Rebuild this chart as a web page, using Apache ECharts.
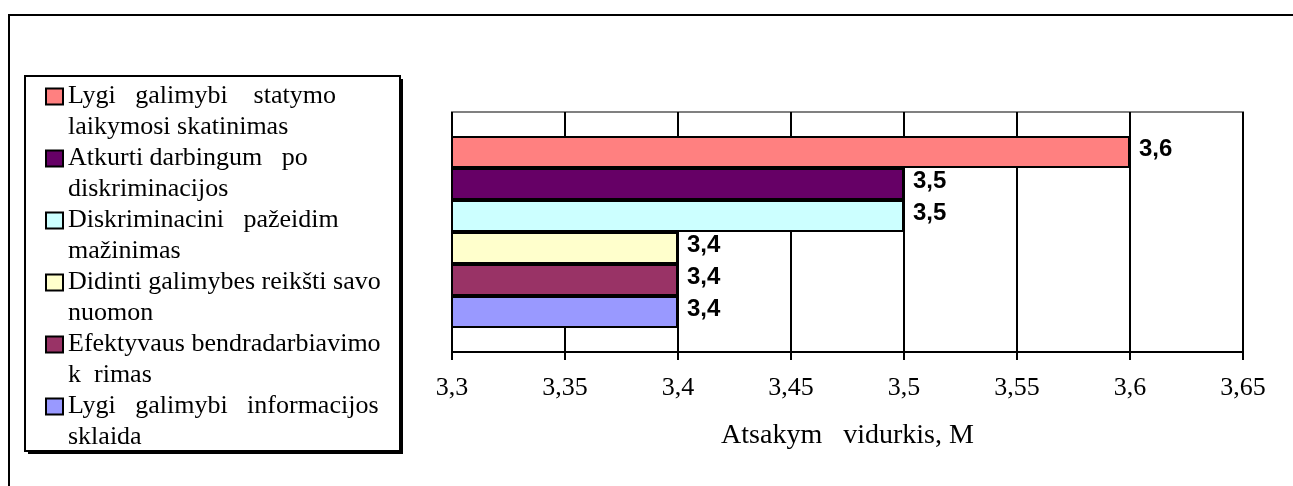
<!DOCTYPE html>
<html>
<head>
<meta charset="utf-8">
<script src="https://cdn.jsdelivr.net/npm/echarts@6/dist/echarts.min.js"></script>
<style>
  html, body { margin: 0; padding: 0; background: #fff; }
  #chart { width: 1293px; height: 486px; }
</style>
</head>
<body>
<div id="chart"></div>
<script>
// Measures, top to bottom
const seriesNames = [
  'Lygi   galimybi    statymo\nlaikymosi skatinimas',
  'Atkurti darbingum   po\ndiskriminacijos',
  'Diskriminacini   pažeidim\nmažinimas',
  'Didinti galimybes reikšti savo\nnuomon',
  'Efektyvaus bendradarbiavimo\nk  rimas',
  'Lygi   galimybi   informacijos\nsklaida'
];
const seriesValues = [3.6, 3.5, 3.5, 3.4, 3.4, 3.4];
const seriesColors = ['#FF8080', '#660066', '#CCFFFF', '#FFFFCC', '#993366', '#9999FF'];
const categories = [''];
const axisMin = 3.3, axisMax = 3.65, axisStep = 0.05;
const axisTitle = 'Atsakym   vidurkis, M';

const comma = v => String(+(+v).toFixed(2)).replace('.', ',');

const chart = echarts.init(document.getElementById('chart'), null, { renderer: 'canvas' });

const series = seriesNames.map((name, i) => ({
  name,
  type: 'bar',
  data: [seriesValues[i]],
  barGap: '0%',
  barCategoryGap: '20%',
  itemStyle: { color: seriesColors[i], borderColor: '#000', borderWidth: 2 },
  label: {
    show: true,
    position: 'right',
    distance: 9,
    offset: [0, -3],
    formatter: p => comma(p.value),
    fontFamily: 'Liberation Sans',
    fontWeight: 'bold',
    fontSize: 24,
    color: '#000'
  }
}));

chart.setOption({
  backgroundColor: '#fff',
  animation: false,
  grid: {
    left: 452, top: 112, right: 50, bottom: 134,
    show: true, borderColor: '#808080', borderWidth: 2, backgroundColor: 'transparent'
  },
  legend: {
    orient: 'vertical',
    left: 45,
    top: 50,
    padding: 0,
    itemGap: -31,
    itemWidth: 17,
    itemHeight: 16,
    icon: 'rect',
    selectedMode: false,
    data: seriesNames,
    // a blank leading line keeps the marker level with the first text line
    formatter: name => '\n' + name,
    textStyle: {
      fontFamily: 'Liberation Serif',
      fontSize: 26,
      lineHeight: 31,
      color: '#000'
    }
  },
  xAxis: {
    type: 'value',
    min: axisMin,
    max: axisMax,
    interval: axisStep,
    name: axisTitle,
    nameLocation: 'middle',
    nameGap: 70,
    nameTextStyle: { fontFamily: 'Liberation Serif', fontSize: 28, color: '#000' },
    axisLine: { show: true, lineStyle: { color: '#000', width: 2 } },
    axisTick: { show: true, inside: false, length: 8, lineStyle: { color: '#000', width: 2 } },
    axisLabel: {
      formatter: v => comma(v),
      fontFamily: 'Liberation Serif', fontSize: 26, color: '#000', margin: 23
    },
    splitLine: { show: true, lineStyle: { color: '#000', width: 2 } }
  },
  yAxis: {
    type: 'category',
    data: categories,
    inverse: true,
    axisLine: { show: false },
    axisTick: { show: false },
    axisLabel: { show: false },
    splitLine: { show: false }
  },
  graphic: [
    // outer frame
    { type: 'rect', z: -20, shape: { x: 9, y: 15, width: 1400, height: 600 },
      style: { fill: 'none', stroke: '#000', lineWidth: 2 } },
    // legend box shadow and box
    { type: 'rect', z: -12, shape: { x: 28, y: 79, width: 375, height: 375 },
      style: { fill: '#000' } },
    { type: 'rect', z: -11, shape: { x: 25, y: 76, width: 375, height: 375 },
      style: { fill: '#fff', stroke: '#000', lineWidth: 2 } }
  ],
  series
});
</script>
</body>
</html>
